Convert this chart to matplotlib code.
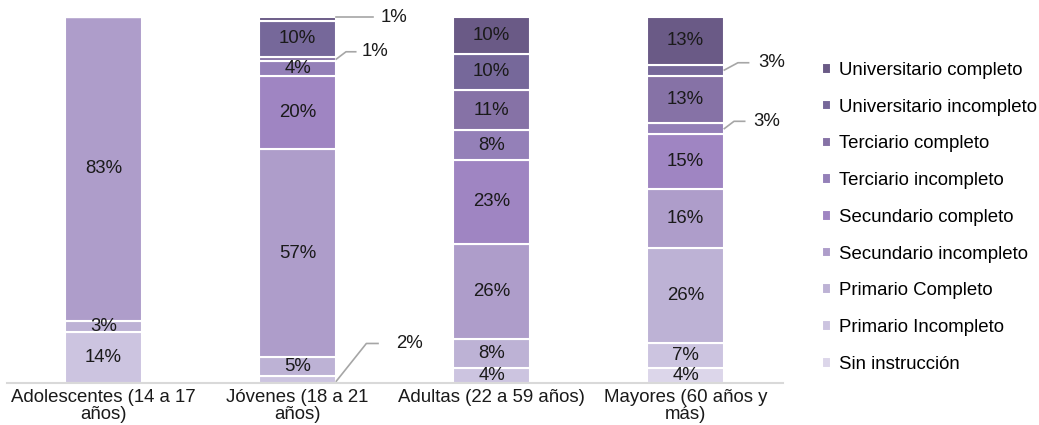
import numpy as np
import matplotlib.pyplot as plt

plt.rcParams['font.family'] = ['Liberation Sans', 'DejaVu Sans']

grupos = ["Adolescentes (14 a 17\naños)", "Jóvenes (18 a 21\naños)",
          "Adultas (22 a 59 años)", "Mayores (60 años y\nmás)"]

niveles = ["Sin instrucción", "Primario Incompleto", "Primario Completo",
           "Secundario incompleto", "Secundario completo", "Terciario incompleto",
           "Terciario completo", "Universitario incompleto", "Universitario completo"]

# porcentajes por nivel (de abajo hacia arriba), un valor por grupo
sin_instr = [0, 0, 0, 4]
prim_inc = [14, 2, 4, 7]
prim_comp = [3, 5, 8, 26]
sec_inc = [83, 57, 26, 16]
sec_comp = [0, 20, 23, 15]
ter_inc = [0, 4, 8, 3]
ter_comp = [0, 1, 11, 13]
univ_inc = [0, 10, 10, 3]
univ_comp = [0, 1, 10, 13]

series = [sin_instr, prim_inc, prim_comp, sec_inc, sec_comp,
          ter_inc, ter_comp, univ_inc, univ_comp]

colores = ["#DCD6EA", "#CCC4E0", "#BDB2D5", "#AE9DCA", "#9F85C2",
           "#9480B8", "#8672A6", "#76689A", "#6A5A86"]

fs = 13.4

fig = plt.figure(figsize=(10.39, 4.25), dpi=100)
ax = fig.add_axes([6.5 / 1039, 42 / 425, 776 / 1039, 366 / 425])

x = np.arange(len(grupos))
ancho = 0.4
base = np.zeros(len(grupos))
for vals, col, nom in zip(series, colores, niveles):
    vals = np.array(vals, dtype=float)
    ax.bar(x, vals, ancho, bottom=base, color=col, edgecolor="white",
           linewidth=1.5, label=nom)
    for i, v in enumerate(vals):
        if v >= 3 and not (i == 3 and v == 3):
            ax.text(x[i], base[i] + v / 2, f"{int(v)}%", ha="center",
                    va="center", fontsize=fs, color="#1a1a1a")
    base += vals

# etiquetas con línea guía para segmentos chicos
gris = "#A6A6A6"
def guia(xs, ys, tx, ty, txt):
    ax.plot(xs, ys, color=gris, lw=1.2, clip_on=False)
    ax.text(tx, ty, txt, ha="left", va="center", fontsize=fs, color="#1a1a1a")

r = x + ancho / 2
# Jóvenes: universitario completo 1%
guia([r[1], r[1] + 0.19], [100, 100], r[1] + 0.23, 100, "1%")
# Jóvenes: terciario completo 1%
yt = sum(v[1] for v in series[:6]) + 0.5
guia([r[1], r[1] + 0.05, r[1] + 0.1], [yt, yt + 2, yt + 2], r[1] + 0.13, yt + 2, "1%")
# Jóvenes: primario incompleto 2%
guia([r[1], r[1] + 0.155, r[1] + 0.215], [0.5, 10.8, 10.8], r[1] + 0.31, 10.8, "2%")
# Mayores: universitario incompleto 3%
yu = sum(v[3] for v in series[:7]) + 1.5
guia([r[3], r[3] + 0.07, r[3] + 0.125], [yu, yu + 2, yu + 2], r[3] + 0.175, yu + 2, "3%")
# Mayores: terciario incompleto 3%
yi = sum(v[3] for v in series[:5]) + 1.5
guia([r[3], r[3] + 0.05, r[3] + 0.105], [yi, yi + 2, yi + 2], r[3] + 0.15, yi + 2, "3%")

ax.set_xlim(-0.5, 3.5)
ax.set_ylim(0, 100)
ax.set_xticks(x)
ax.set_xticklabels(grupos, fontsize=fs, color="#1a1a1a", linespacing=1.0)
ax.tick_params(axis="x", length=0, pad=4)
ax.set_yticks([])
for s in ["top", "right", "left"]:
    ax.spines[s].set_visible(False)
ax.spines["bottom"].set_color("#D9D9D9")
ax.spines["bottom"].set_linewidth(1.5)

h, l = ax.get_legend_handles_labels()
fig.legend(h[::-1], l[::-1], loc="upper left", bbox_to_anchor=(822 / 1039, 1 - 62 / 425),
           frameon=False, fontsize=fs, handlelength=0.5, handleheight=0.5,
           handletextpad=0.4, labelspacing=1.06, borderaxespad=0, borderpad=0)

fig.savefig("out.png", dpi=100)
